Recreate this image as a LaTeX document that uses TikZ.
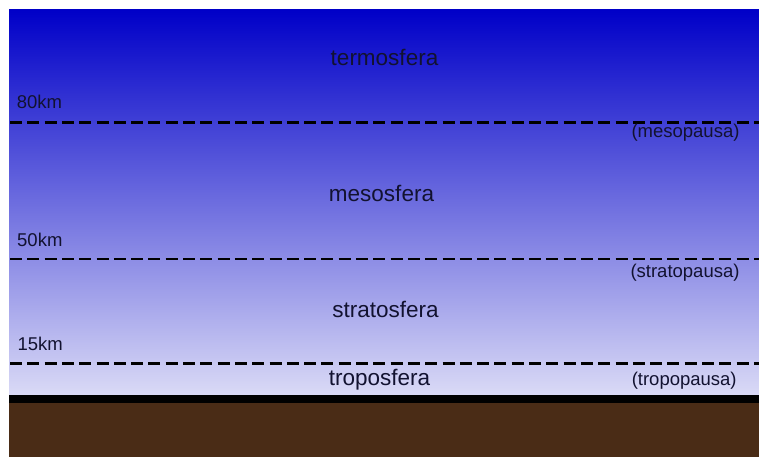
\documentclass[tikz,border=0pt]{standalone}
\usepackage{fontspec}
\setmainfont{Liberation Sans}
\definecolor{skytop}{RGB}{0,0,200}
\definecolor{skybot}{RGB}{218,218,246}
\definecolor{soil}{RGB}{74,44,22}
\definecolor{txt}{RGB}{18,18,48}
\tikzset{
  big/.style={anchor=base, text=txt, inner sep=0pt, font=\fontsize{22.5}{27}\selectfont},
  alt/.style={anchor=base west, text=txt, inner sep=0pt, font=\fontsize{18.5}{22}\selectfont},
  pausa/.style={anchor=base, text=txt, inner sep=0pt, font=\fontsize{18.5}{22}\selectfont},
  boundary/.style={line width=2.8pt, dash pattern=on 12pt off 5.3pt, dash phase=-1pt}
}
\begin{document}
\begin{tikzpicture}[x=1pt,y=-1pt]
\useasboundingbox (0,0) rectangle (759,457);
\fill[white] (0,0) rectangle (759,457);
\shade[top color=skytop, bottom color=skybot] (9,10) rectangle (759,395);
\fill[black] (9,395) rectangle (759,403);
\fill[soil] (9,403) rectangle (759,457);
% boundaries
\coordinate (m0) at (9,122.3); \coordinate (m1) at (759,122.3);
\coordinate (s0) at (9,259); \coordinate (s1) at (759,259);
\coordinate (t0) at (9,363.5); \coordinate (t1) at (759,363.5);
\draw[boundary] (m0) -- (m1);
\draw[boundary] (s0) -- (s1);
\draw[boundary] (t0) -- (t1);
% layer names
\node[big] (termo) at (384.5,66) {termosfera};
\node[big] (meso) at (381.5,201.7) {mesosfera};
\node[big] (strato) at (385.5,317.3) {stratosfera};
\node[big] (tropo) at (379.5,385) {troposfera};
% altitudes
\node[alt] (k80) at (16.7,108.3) {80km};
\node[alt] (k50) at (17,246.7) {50km};
\node[alt] (k15) at (17.3,350) {15km};
% pauses
\node[pausa] (mp) at (685.5,137.7) {(mesopausa)};
\node[pausa] (sp) at (685,277) {(stratopausa)};
\node[pausa] (tp) at (684.2,385) {(tropopausa)};
\end{tikzpicture}
\end{document}
